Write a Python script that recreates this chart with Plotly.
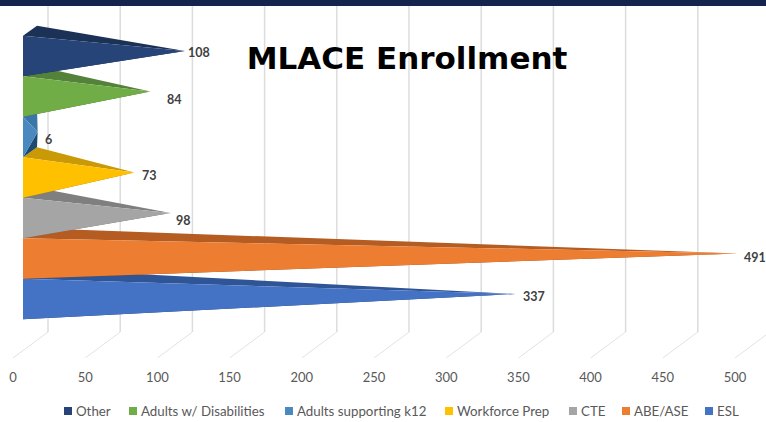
import plotly.graph_objects as go

# ---- data ----
categories = ["ESL", "ABE/ASE", "CTE", "Workforce Prep", "Adults supporting k12", "Adults w/ Disabilities", "Other"]
values = [337, 491, 98, 73, 6, 84, 108]
x_ticks = [0, 50, 100, 150, 200, 250, 300, 350, 400, 450, 500]

# ---- style ----
front_colors = ["#4472c4", "#ed7d31", "#a5a5a5", "#ffc000", "#4a88c0", "#70ad47", "#264478"]
top_colors = ["#2f5597", "#b45c22", "#7f7f7f", "#c99a06", "#3b76a8", "#55823a", "#1b3156"]
bottom_colors = ["#223f6f", "#8a4517", "#666666", "#99750a", "#1f4a70", "#43672d", "#14243f"]
label_shift = [(18, -2), (17, -4), (13, -7), (15, -3), (11, -7), (24, -8), (14, -1)]
legend_square_px = [705, 622, 569, 445, 285, 129, 64]

W, H = 766, 422
PLOT_BOTTOM = 358
X_PX0, X_SCALE = 13.0, 1.444
Y_PX0, Y_SCALE = 299.0, 40.5
FRONT_X = (23 - X_PX0) / X_SCALE
BACK_X = (37 - X_PX0) / X_SCALE
TIP_X = (29 - X_PX0) / X_SCALE
WALL_X = 35 / X_SCALE
HALF = 0.5
BACK_DY = 10 / Y_SCALE
TIP_DY = 5 / Y_SCALE
FLOOR_Y = (Y_PX0 - 358) / Y_SCALE
WALL_BOTTOM = (Y_PX0 - 332) / Y_SCALE
WALL_TOP = (Y_PX0 - 6) / Y_SCALE

fig = go.Figure()

# wall grid and floor lines
for t in x_ticks:
    fig.add_trace(go.Scatter(x=[t, t + WALL_X], y=[FLOOR_Y, WALL_BOTTOM], mode="lines",
                             line=dict(color="#e2e2e2", width=1), hoverinfo="skip", showlegend=False))
    fig.add_trace(go.Scatter(x=[t + WALL_X, t + WALL_X], y=[WALL_BOTTOM, WALL_TOP], mode="lines",
                             line=dict(color="#dcdcdc", width=1.5), hoverinfo="skip", showlegend=False))

# pyramids, lowest category first so upper ones overlap
for i, (name, v) in enumerate(zip(categories, values)):
    tip = (v + TIP_X, i + TIP_DY)
    ft, fb = (FRONT_X, i + HALF), (FRONT_X, i - HALF)
    bt, bb = (BACK_X, i + HALF + BACK_DY), (BACK_X, i - HALF + BACK_DY)
    faces = [([fb, bb, tip], bottom_colors[i]), ([ft, bt, tip], top_colors[i]), ([ft, fb, tip], front_colors[i])]
    for pts, col in faces:
        fig.add_trace(go.Scatter(x=[p[0] for p in pts] + [pts[0][0]], y=[p[1] for p in pts] + [pts[0][1]],
                                 mode="lines", fill="toself", fillcolor=col, line=dict(color=col, width=0),
                                 name=name, hoverinfo="skip", showlegend=False))
    fig.add_annotation(x=tip[0], y=tip[1], text=str(v), showarrow=False, xref="x", yref="y",
                       xshift=label_shift[i][0], yshift=label_shift[i][1],
                       font=dict(family="Lato", size=12.5, color="#404040", weight="bold"))
    # legend entry
    sx = legend_square_px[i]
    fig.add_shape(type="rect", xref="paper", yref="paper", x0=sx / W, x1=(sx + 8) / W,
                  y0=(PLOT_BOTTOM - 415) / PLOT_BOTTOM, y1=(PLOT_BOTTOM - 407) / PLOT_BOTTOM,
                  fillcolor=front_colors[i], line_width=0)
    fig.add_annotation(x=(sx + 10) / W, y=(PLOT_BOTTOM - 411) / PLOT_BOTTOM, text=name, showarrow=False,
                       xref="paper", yref="paper", xanchor="left", yanchor="middle",
                       font=dict(family="Lato", size=13.3, color="#595959"))

# dark band at the very top
fig.add_shape(type="rect", xref="paper", yref="paper", x0=0, x1=1, y0=(PLOT_BOTTOM - 6) / PLOT_BOTTOM, y1=1,
              fillcolor="#15234f", line_width=0)

fig.update_layout(
    width=W, height=H, margin=dict(l=0, r=0, t=0, b=H - PLOT_BOTTOM, autoexpand=False),
    paper_bgcolor="white", plot_bgcolor="white", showlegend=False,
    title=dict(text="MLACE Enrollment", x=407 / W, xanchor="center", y=1 - 58 / H, yanchor="middle",
               font=dict(family="DejaVu Sans", size=31, color="black", weight="bold")),
    xaxis=dict(range=[-X_PX0 / X_SCALE, (W - X_PX0) / X_SCALE], tickmode="array", tickvals=x_ticks,
               ticktext=[str(t) for t in x_ticks], showgrid=False, zeroline=False, showline=False,
               ticks="outside", ticklen=7, tickcolor="rgba(0,0,0,0)",
               tickfont=dict(family="Lato", size=13, color="#595959"), fixedrange=True),
    yaxis=dict(range=[FLOOR_Y, Y_PX0 / Y_SCALE], visible=False, fixedrange=True),
)
fig.write_html("out.html", config=dict(displayModeBar=False),
               post_script="document.body.style.margin='0';document.documentElement.style.overflow='hidden';")
